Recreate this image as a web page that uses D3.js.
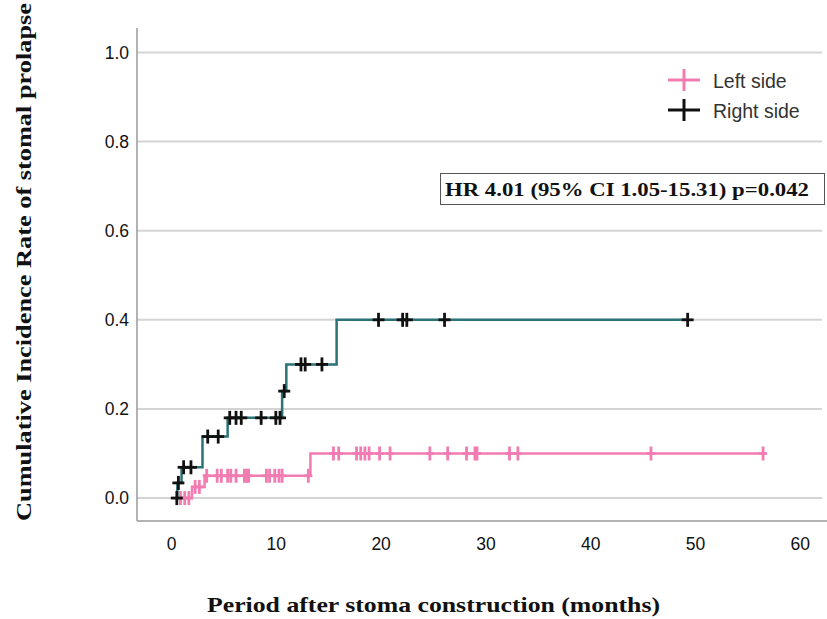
<!DOCTYPE html>
<html>
<head>
<meta charset="utf-8">
<script src="https://cdn.jsdelivr.net/npm/d3@7"></script>
<style>
  body { margin: 0; background: #fff; }
  svg { display: block; }
</style>
</head>
<body>
<div id="chart"></div>
<script>
// step events (time in months, cumulative incidence after the step)
const leftStart = 0.8;
const leftEventTimes = [2.0, 3.2, 13.3];
const leftEventValues = [0.025, 0.05, 0.10];
const leftEnd = 56.6;
const leftCensored = [0.9, 1.3, 1.7, 2.3, 2.7, 3.4, 4.4, 4.8, 5.4, 5.7, 6.2, 7.0, 7.2, 7.4,
  9.1, 9.4, 9.9, 10.3, 10.6, 13.1, 15.5, 16.0, 17.7, 18.1, 18.5, 18.9, 19.9, 20.9,
  24.7, 26.4, 28.2, 29.0, 29.2, 32.3, 33.1, 45.8, 56.5];

const rightStart = 0.4;
const rightEventTimes = [0.6, 1.0, 3.0, 5.4, 10.6, 11.0, 15.8];
const rightEventValues = [0.034, 0.069, 0.138, 0.18, 0.24, 0.30, 0.40];
const rightEnd = 49.3;
const rightCensored = [0.55, 0.7, 1.2, 1.9, 3.5, 4.5, 5.6, 6.2, 6.7, 8.6, 10.0, 10.4, 10.8,
  12.4, 12.8, 14.4, 19.8, 22.1, 22.5, 26.1, 49.3];

const xTicks = [0, 10, 20, 30, 40, 50, 60];
const yTicks = [0.0, 0.2, 0.4, 0.6, 0.8, 1.0];

const groups = ["Left side", "Right side"];
const lineColors = ["#f27cb1", "#2b7377"];
const markColors = ["#f27cb1", "#111111"];

const width = 827, height = 619;
const plot = {left: 137, top: 28, right: 827, bottom: 521};

const svg = d3.select("#chart")
  .append("svg")
    .attr("width", width)
    .attr("height", height);

const x = d3.scaleLinear()
  .domain([-3.25, 62.6])
  .range([plot.left, plot.right]);

const y = d3.scaleLinear()
  .domain([-0.0515, 1.055])
  .range([plot.bottom, plot.top]);

// gridlines
svg.append("g")
  .selectAll("line")
  .data(yTicks)
  .join("line")
    .attr("x1", plot.left)
    .attr("x2", 822)
    .attr("y1", d => y(d))
    .attr("y2", d => y(d))
    .style("stroke", "#d4d4d4")
    .style("stroke-width", 2);

// axis frame
const yAxis = svg.append("g")
  .attr("transform", "translate(" + plot.left + ",0)")
  .call(d3.axisLeft(y).tickValues(yTicks).tickFormat(d3.format(".1f")).tickSize(0).tickPadding(8));
yAxis.select(".domain").attr("d", "M0," + plot.top + "V" + plot.bottom).style("stroke", "#9a9a9a").style("stroke-width", 1.5);
yAxis.selectAll(".tick text")
  .style("font-family", "Liberation Sans, Arial, sans-serif")
  .style("font-size", "17.5px")
  .style("fill", "#111");

const xAxis = svg.append("g")
  .attr("transform", "translate(0," + plot.bottom + ")")
  .call(d3.axisBottom(x).tickValues(xTicks).tickSize(0).tickPadding(17));
xAxis.select(".domain").attr("d", "M" + plot.left + ",0H" + plot.right).style("stroke", "#9a9a9a").style("stroke-width", 1.5);
xAxis.selectAll(".tick text")
  .style("font-family", "Liberation Sans, Arial, sans-serif")
  .style("font-size", "17.5px")
  .style("fill", "#111");

// curves
const stepValue = (times, values, t) => {
  let v = 0;
  times.forEach((e, i) => { if (t >= e) v = values[i]; });
  return v;
};

const series = [
  {start: leftStart, times: leftEventTimes, values: leftEventValues, end: leftEnd, censored: leftCensored},
  {start: rightStart, times: rightEventTimes, values: rightEventValues, end: rightEnd, censored: rightCensored}
];

const line = d3.line()
  .x(d => x(d[0]))
  .y(d => y(d[1]))
  .curve(d3.curveStepAfter);

series.forEach((s, i) => {
  const pts = [[s.start, 0]].concat(s.times.map((t, j) => [t, s.values[j]]));
  pts.push([s.end, s.values[s.values.length - 1]]);

  svg.append("path")
    .datum(pts)
    .attr("d", line)
    .style("fill", "none")
    .style("stroke", lineColors[i])
    .style("stroke-width", 2.5);

  const marks = svg.append("g")
    .selectAll("g")
    .data(s.censored)
    .join("g")
      .attr("transform", d => "translate(" + x(d) + "," + y(stepValue(s.times, s.values, d)) + ")");

  marks.append("line")
    .attr("x1", i === 0 ? -4 : -6).attr("x2", i === 0 ? 4 : 6)
    .attr("y1", 0).attr("y2", 0)
    .style("stroke", markColors[i])
    .style("stroke-width", 2.8);
  marks.append("line")
    .attr("x1", 0).attr("x2", 0)
    .attr("y1", -7).attr("y2", 7)
    .style("stroke", markColors[i])
    .style("stroke-width", 2.8);
});

// legend
const legend = svg.append("g")
  .selectAll("g")
  .data(groups)
  .join("g")
    .attr("transform", (d, i) => "translate(684," + (80 + i * 30) + ")");

legend.append("line")
  .attr("x1", -16).attr("x2", 16)
  .style("stroke", (d, i) => markColors[i])
  .style("stroke-width", 3);
legend.append("line")
  .attr("y1", -11).attr("y2", 11)
  .style("stroke", (d, i) => markColors[i])
  .style("stroke-width", 3);
legend.append("text")
  .attr("x", 29)
  .attr("y", 8)
  .style("font-family", "Liberation Sans, Arial, sans-serif")
  .style("font-size", "19.5px")
  .style("fill", "#333")
  .text(d => d);

// hazard ratio box
svg.append("rect")
  .attr("x", 440.5)
  .attr("y", 173.5)
  .attr("width", 384)
  .attr("height", 31)
  .style("fill", "#fff")
  .style("stroke", "#555")
  .style("stroke-width", 1);

svg.append("text")
  .attr("x", 445)
  .attr("y", 196)
  .attr("textLength", 364)
  .attr("lengthAdjust", "spacingAndGlyphs")
  .style("font-family", "Liberation Serif, Times New Roman, serif")
  .style("font-weight", 700)
  .style("font-size", "19px")
  .style("fill", "#111")
  .text("HR 4.01 (95% CI 1.05-15.31) p=0.042");

// axis titles
svg.append("text")
  .attr("x", 207)
  .attr("y", 612)
  .attr("textLength", 453)
  .attr("lengthAdjust", "spacingAndGlyphs")
  .style("font-family", "Liberation Serif, Times New Roman, serif")
  .style("font-weight", 700)
  .style("font-size", "22px")
  .style("fill", "#111")
  .text("Period after stoma construction (months)");

svg.append("text")
  .attr("transform", "translate(31,521) rotate(-90)")
  .attr("textLength", 518)
  .attr("lengthAdjust", "spacingAndGlyphs")
  .style("font-family", "Liberation Serif, Times New Roman, serif")
  .style("font-weight", 700)
  .style("font-size", "22px")
  .style("fill", "#111")
  .text("Cumulative Incidence Rate of stomal prolapse");
</script>
</body>
</html>
